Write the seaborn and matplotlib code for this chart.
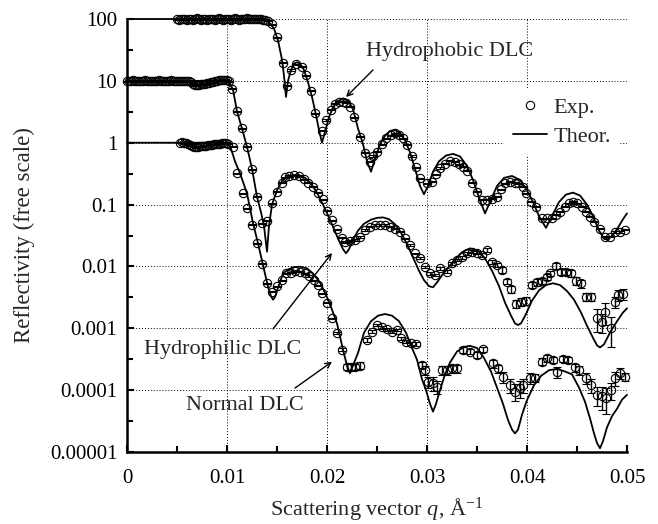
import matplotlib
matplotlib.use("Agg")
import matplotlib.pyplot as plt
from matplotlib.lines import Line2D
from matplotlib.ticker import FixedLocator, NullFormatter
import numpy as np
import seaborn as sns

# ---- theory curves ----
th_top_q = [0, 0.0130, 0.0137, 0.0142, 0.0147, 0.0151, 0.0155, 0.0157, 0.0159, 0.0161, 0.0164, 0.0167,
            0.0170, 0.0173, 0.0177, 0.0181, 0.0185, 0.0189, 0.0192, 0.0195, 0.0198, 0.0202, 0.0206, 0.0211,
            0.0216, 0.0221, 0.0226, 0.0231, 0.0236, 0.0240, 0.0244, 0.0248, 0.0253, 0.0258, 0.0263, 0.0268,
            0.0273, 0.0278, 0.0283, 0.0288, 0.0293, 0.0297, 0.0301, 0.0306, 0.0312, 0.0319, 0.0326, 0.0333,
            0.0340, 0.0346, 0.0352, 0.0358, 0.0364, 0.0370, 0.0377, 0.0385, 0.0393, 0.0400, 0.0406, 0.0412,
            0.0419, 0.0425, 0.0432, 0.0439, 0.0446, 0.0453, 0.0460, 0.0466, 0.0472, 0.0477, 0.0480, 0.0484,
            0.0490, 0.0496, 0.0500]
th_top_r = [100, 100, 97, 88, 70, 45, 22, 12, 5.5, 10, 15, 19,
            20, 19, 15, 9.5, 5.5, 2.8, 1.6, 1.0, 1.5, 2.6, 3.7, 4.7,
            5.2, 4.8, 3.5, 1.7, 0.95, 0.5, 0.34, 0.55, 0.95, 1.3, 1.55, 1.6,
            1.45, 1.1, 0.7, 0.38, 0.2, 0.147, 0.2, 0.34, 0.5, 0.62, 0.66, 0.6,
            0.42, 0.25, 0.13, 0.072, 0.12, 0.2, 0.27, 0.29, 0.25, 0.17, 0.11, 0.065,
            0.042, 0.065, 0.11, 0.145, 0.156, 0.14, 0.1, 0.065, 0.038, 0.028, 0.027, 0.03,
            0.04, 0.058, 0.072]

th_mid_q = [0, 0.0100, 0.0103, 0.0106, 0.0110, 0.0115, 0.0120, 0.0125, 0.0130, 0.0134, 0.0137, 0.0140,
            0.0142, 0.0145, 0.0150, 0.0155, 0.0160, 0.0166, 0.0172, 0.0178, 0.0184, 0.0190, 0.0196, 0.0202,
            0.0207, 0.0212, 0.0216, 0.0219, 0.0222, 0.0226, 0.0231, 0.0237, 0.0244, 0.0250, 0.0256, 0.0262,
            0.0268, 0.0274, 0.0280, 0.0286, 0.0292, 0.0297, 0.0302, 0.0306, 0.0310, 0.0315, 0.0321, 0.0328,
            0.0335, 0.0343, 0.0351, 0.0358, 0.0365, 0.0372, 0.0378, 0.0384, 0.0388, 0.0391, 0.0394, 0.0399,
            0.0405, 0.0412, 0.0419, 0.0426, 0.0433, 0.0440, 0.0447, 0.0454, 0.0460, 0.0466, 0.0470, 0.0473,
            0.0477, 0.0483, 0.0490, 0.0496, 0.0500]
th_mid_r = [10, 10, 9, 7.2, 3.2, 1.7, 0.86, 0.38, 0.134, 0.075, 0.045, 0.0173,
            0.045, 0.1, 0.17, 0.24, 0.28, 0.3, 0.3, 0.27, 0.22, 0.155, 0.1, 0.062,
            0.04, 0.026, 0.019, 0.0163, 0.019, 0.027, 0.038, 0.049, 0.057, 0.061, 0.062, 0.058,
            0.048, 0.035, 0.023, 0.014, 0.0085, 0.006, 0.0048, 0.0046, 0.0055, 0.0072, 0.0095, 0.013,
            0.017, 0.0196, 0.018, 0.0135, 0.0085, 0.0048, 0.0026, 0.0016, 0.0012, 0.00113, 0.0012, 0.0017,
            0.0028, 0.0041, 0.005, 0.00535, 0.005, 0.004, 0.0029, 0.0018, 0.0011, 0.0007, 0.00053, 0.00049,
            0.00055, 0.00085, 0.0013, 0.0018, 0.0021]

th_low_q = [0, 0.0100, 0.0104, 0.0108, 0.0113, 0.0120, 0.0126, 0.0131, 0.0136, 0.0141, 0.0144, 0.0146,
            0.0148, 0.0151, 0.0156, 0.0161, 0.0166, 0.0173, 0.0180, 0.0186, 0.0193, 0.0200, 0.0205, 0.0210,
            0.0216, 0.0220, 0.0223, 0.0226, 0.0231, 0.0237, 0.0244, 0.0251, 0.0258, 0.0265, 0.0272, 0.0279,
            0.0285, 0.0290, 0.0295, 0.0299, 0.0303, 0.0306, 0.0309, 0.0313, 0.0318, 0.0323, 0.0330, 0.0337,
            0.0343, 0.0350, 0.0357, 0.0364, 0.0370, 0.0376, 0.0381, 0.0385, 0.0388, 0.0391, 0.0395, 0.0400,
            0.0407, 0.0414, 0.0422, 0.0430, 0.0438, 0.0445, 0.0452, 0.0458, 0.0463, 0.0467, 0.0470, 0.0473,
            0.0476, 0.0480, 0.0485, 0.0490, 0.0495, 0.0500]
th_low_r = [1, 1, 0.8, 0.5, 0.32, 0.152, 0.05, 0.0237, 0.0105, 0.0047, 0.0033, 0.0029,
            0.0032, 0.0045, 0.0077, 0.0089, 0.0097, 0.0099, 0.0093, 0.0077, 0.0055, 0.0032, 0.002, 0.0012,
            0.00045, 0.00025, 0.000187, 0.00025, 0.0004, 0.00085, 0.0013, 0.0016, 0.0017, 0.0016, 0.0013, 0.00085,
            0.00048, 0.00031, 0.00015, 0.0001, 6e-5, 4.5e-5, 6e-5, 0.0001, 0.00018, 0.00028, 0.00042, 0.0005,
            0.00052, 0.00048, 0.00033, 0.0002, 0.00011, 6e-5, 3.3e-5, 2.3e-5, 2.0e-5, 2.3e-5, 4e-5, 6.9e-5,
            0.00012, 0.00017, 0.00021, 0.00022, 0.0002, 0.00018, 0.00011, 6.5e-5, 3.5e-5, 2e-5, 1.4e-5, 1.15e-5,
            1.5e-5, 2.5e-5, 3.8e-5, 5e-5, 7e-5, 8.4e-5]

# ---- experimental points ----
exp_top_q = [0.0050, 0.0052, 0.0054, 0.0056, 0.0058, 0.0060, 0.0062, 0.0064, 0.0066, 0.0068, 0.0070, 0.0072,
             0.0074, 0.0076, 0.0078, 0.0080, 0.0082, 0.0084, 0.0086, 0.0088, 0.0090, 0.0092, 0.0094, 0.0096,
             0.0098, 0.0100, 0.0102, 0.0104, 0.0106, 0.0108, 0.0110, 0.0112, 0.0114, 0.0116, 0.0118, 0.0120,
             0.0122, 0.0124, 0.0126, 0.0128, 0.0130, 0.0132, 0.0134, 0.0136, 0.0138, 0.0141, 0.0145, 0.0150,
             0.0156, 0.0160, 0.0164, 0.0169, 0.0175, 0.0179, 0.0184, 0.0188, 0.0195, 0.0199, 0.0204, 0.0208,
             0.0212, 0.0216, 0.0219, 0.0223, 0.0227, 0.0233, 0.0238, 0.0243, 0.0246, 0.0250, 0.0255, 0.0259,
             0.0264, 0.0268, 0.0272, 0.0276, 0.0280, 0.0285, 0.0289, 0.0293, 0.0300, 0.0305, 0.0309, 0.0313,
             0.0318, 0.0323, 0.0328, 0.0332, 0.0336, 0.0340, 0.0345, 0.0350, 0.0355, 0.0360, 0.0365, 0.0370,
             0.0374, 0.0378, 0.0383, 0.0388, 0.0391, 0.0396, 0.0399, 0.0404, 0.0409, 0.0415, 0.0420, 0.0425,
             0.0429, 0.0433, 0.0438, 0.0442, 0.0446, 0.0450, 0.0455, 0.0459, 0.0463, 0.0467, 0.0473, 0.0478,
             0.0483, 0.0488, 0.0493, 0.0498]
exp_top_r = [100, 98, 101, 99, 100, 97, 101, 99, 98, 100, 102, 99,
             97, 100, 101, 98, 100, 99, 101, 98, 100, 102, 99, 97,
             100, 101, 99, 98, 100, 102, 100, 98, 101, 99, 100, 102,
             100, 99, 101, 100, 99, 101, 100, 98, 97, 93, 82, 50.6,
             19.7, 8.3, 15, 18.6, 17, 12.4, 6.9, 3.0, 1.55, 2.33, 3.4, 4.3,
             4.6, 4.6, 4.4, 3.8, 2.6, 1.25, 0.69, 0.49, 0.61, 0.72, 0.95, 1.18,
             1.33, 1.42, 1.33, 1.18, 0.92, 0.61, 0.4, 0.266, 0.22, 0.234, 0.31, 0.39,
             0.46, 0.51, 0.49, 0.45, 0.41, 0.35, 0.226, 0.161, 0.119, 0.119, 0.125, 0.134,
             0.177, 0.221, 0.234, 0.226, 0.22, 0.195, 0.152, 0.111, 0.092, 0.06, 0.06, 0.06,
             0.068, 0.077, 0.092, 0.105, 0.111, 0.105, 0.092, 0.077, 0.064, 0.053, 0.041, 0.03,
             0.03, 0.036, 0.036, 0.039]

exp_mid_q = [0.0000, 0.0002, 0.0004, 0.0006, 0.0008, 0.0010, 0.0012, 0.0014, 0.0016, 0.0018, 0.0020, 0.0022,
             0.0024, 0.0026, 0.0028, 0.0030, 0.0032, 0.0034, 0.0036, 0.0038, 0.0040, 0.0042, 0.0044, 0.0046,
             0.0048, 0.0050, 0.0052, 0.0054, 0.0056, 0.0058, 0.0060, 0.0062, 0.0064, 0.0066, 0.0068, 0.0070,
             0.0072, 0.0074, 0.0076, 0.0078, 0.0080, 0.0082, 0.0084, 0.0086, 0.0088, 0.0090, 0.0092, 0.0094,
             0.0096, 0.0098, 0.0100, 0.0102, 0.0105, 0.0110, 0.0115, 0.0120, 0.0125, 0.0130, 0.0135, 0.0140,
             0.0145, 0.0150, 0.0155, 0.0158, 0.0162, 0.0167, 0.0172, 0.0177, 0.0181, 0.0186, 0.0191, 0.0196,
             0.0200, 0.0205, 0.0210, 0.0215, 0.0218, 0.0223, 0.0228, 0.0233, 0.0238, 0.0243, 0.0248, 0.0253,
             0.0258, 0.0263, 0.0268, 0.0273, 0.0278, 0.0283, 0.0288, 0.0293, 0.0298, 0.0303, 0.0308, 0.0313,
             0.0320, 0.0325, 0.0330, 0.0335, 0.0340, 0.0345, 0.0350, 0.0355, 0.0360, 0.0365, 0.0370, 0.0375,
             0.0380, 0.0384, 0.0389, 0.0394, 0.0399, 0.0405, 0.0410, 0.0415, 0.0420, 0.0423, 0.0429, 0.0434,
             0.0439, 0.0444, 0.0449, 0.0454, 0.0459, 0.0464, 0.0470, 0.0475, 0.0478, 0.0484, 0.0488, 0.0491,
             0.0496]
exp_mid_r = [9.8, 10.1, 9.9, 10.2, 10.0, 9.8, 10.1, 10.0, 9.9, 10.2, 10.0, 9.9,
             10.1, 10.0, 9.8, 10.1, 10.2, 9.9, 10.0, 10.1, 9.9, 10.0, 10.2, 10.0,
             9.9, 10.1, 10.0, 9.8, 10.1, 10.0, 9.9, 9.8, 9.6, 9.0, 8.6, 8.5,
             8.6, 8.8, 8.9, 9.0, 9.1, 9.3, 9.5, 9.7, 9.8, 10.0, 10.2, 10.3,
             10.4, 10.4, 10.2, 9.8, 7.4, 3.2, 1.71, 0.86, 0.37, 0.134, 0.05, 0.055,
             0.105, 0.161, 0.226, 0.275, 0.29, 0.297, 0.29, 0.257, 0.226, 0.195, 0.156, 0.122,
             0.08, 0.056, 0.04, 0.029, 0.025, 0.026, 0.0267, 0.030, 0.039, 0.044, 0.047, 0.047,
             0.047, 0.044, 0.041, 0.0365, 0.0284, 0.0222, 0.0163, 0.0135, 0.0099, 0.0077, 0.0073, 0.0093,
             0.0082, 0.0112, 0.0127, 0.014, 0.0163, 0.0173, 0.0167, 0.0153, 0.0185, 0.0119, 0.0106, 0.0088,
             0.0057, 0.0043, 0.0025, 0.0027, 0.0028, 0.005, 0.0055, 0.0059, 0.0068, 0.0077, 0.0102, 0.0082,
             0.0082, 0.0077, 0.0059, 0.0053, 0.0032, 0.0032, 0.00145, 0.00128, 0.00186, 0.001, 0.0027, 0.0035,
             0.0036]
exp_mid_e = [0.02, 0.02, 0.02, 0.02, 0.02, 0.02, 0.02, 0.02, 0.02, 0.02, 0.02, 0.02,
             0.02, 0.02, 0.02, 0.02, 0.02, 0.02, 0.02, 0.02, 0.02, 0.02, 0.02, 0.02,
             0.02, 0.02, 0.02, 0.02, 0.02, 0.02, 0.02, 0.02, 0.02, 0.02, 0.02, 0.02,
             0.02, 0.02, 0.02, 0.02, 0.02, 0.02, 0.02, 0.02, 0.02, 0.02, 0.02, 0.02,
             0.02, 0.02, 0.02, 0.02, 0.02, 0.02, 0.02, 0.02, 0.02, 0.02, 0.02, 0.02,
             0.02, 0.02, 0.02, 0.02, 0.02, 0.02, 0.02, 0.02, 0.02, 0.02, 0.02, 0.02,
             0.02, 0.02, 0.02, 0.02, 0.03, 0.03, 0.03, 0.03, 0.03, 0.03, 0.03, 0.03,
             0.03, 0.03, 0.03, 0.03, 0.03, 0.03, 0.03, 0.04, 0.04, 0.04, 0.05, 0.05,
             0.05, 0.05, 0.05, 0.05, 0.05, 0.05, 0.05, 0.06, 0.06, 0.08, 0.08, 0.1,
             0.1, 0.12, 0.15, 0.15, 0.15, 0.12, 0.12, 0.12, 0.12, 0.1, 0.1, 0.12,
             0.12, 0.12, 0.15, 0.15, 0.15, 0.15, 0.4, 0.35, 0.4, 0.5, 0.2, 0.2,
             0.2]

exp_low_q = [0.0053, 0.0055, 0.0057, 0.0059, 0.0061, 0.0063, 0.0065, 0.0067, 0.0069, 0.0071, 0.0073, 0.0075,
             0.0077, 0.0079, 0.0081, 0.0083, 0.0085, 0.0087, 0.0089, 0.0091, 0.0093, 0.0095, 0.0097, 0.0099,
             0.0101, 0.0106, 0.0110, 0.0116, 0.0120, 0.0125, 0.0130, 0.0135, 0.0140, 0.0145, 0.0150, 0.0155,
             0.0159, 0.0164, 0.0168, 0.0173, 0.0178, 0.0182, 0.0187, 0.0191, 0.0195, 0.0200, 0.0205, 0.0210,
             0.0215, 0.0220, 0.0224, 0.0228, 0.0233, 0.0240, 0.0245, 0.0250, 0.0255, 0.0260, 0.0265, 0.0270,
             0.0274, 0.0279, 0.0284, 0.0289, 0.0295, 0.0298, 0.0301, 0.0306, 0.0310, 0.0315, 0.0320, 0.0325,
             0.0330, 0.0336, 0.0343, 0.0350, 0.0356, 0.0366, 0.0371, 0.0376, 0.0383, 0.0388, 0.0393, 0.0396,
             0.0403, 0.0408, 0.0415, 0.0420, 0.0426, 0.0430, 0.0436, 0.0441, 0.0448, 0.0452, 0.0459, 0.0464,
             0.0470, 0.0475, 0.0479, 0.0484, 0.0488, 0.0493, 0.0498]
exp_low_r = [1.0, 1.02, 0.99, 0.99, 0.97, 0.93, 0.9, 0.86, 0.85, 0.86, 0.87, 0.88,
             0.89, 0.9, 0.91, 0.92, 0.93, 0.94, 0.95, 0.96, 0.97, 0.98, 0.99, 1.0,
             0.97, 0.86, 0.32, 0.152, 0.087, 0.047, 0.0237, 0.011, 0.0053, 0.0039, 0.0048, 0.006,
             0.0077, 0.0079, 0.0085, 0.0082, 0.0077, 0.007, 0.006, 0.005, 0.0037, 0.0026, 0.00145, 0.00085,
             0.00045, 0.00024, 0.00024, 0.00024, 0.00025, 0.00065, 0.00088, 0.00113, 0.00104, 0.00096, 0.00088, 0.00094,
             0.00069, 0.00061, 0.00057, 0.00056, 0.000255, 0.00021, 0.000137, 0.000129, 0.000114, 0.00021, 0.00021, 0.000225,
             0.000225, 0.000446, 0.00042, 0.00037, 0.000457, 0.00027, 0.000225, 0.000165, 0.000121, 9.5e-5, 0.000107, 0.000121,
             0.000155, 0.00016, 0.00029, 0.00033, 0.00031, 0.0002, 0.00032, 0.00031, 0.000234, 0.00021, 0.000155, 0.000121,
             8.4e-5, 7.9e-5, 7.4e-5, 0.0001, 0.000155, 0.000187, 0.000165]
exp_low_e = [0.02, 0.02, 0.02, 0.02, 0.02, 0.02, 0.02, 0.02, 0.02, 0.02, 0.02, 0.02,
             0.02, 0.02, 0.02, 0.02, 0.02, 0.02, 0.02, 0.02, 0.02, 0.02, 0.02, 0.02,
             0.02, 0.02, 0.02, 0.02, 0.02, 0.02, 0.02, 0.02, 0.02, 0.02, 0.02, 0.02,
             0.02, 0.02, 0.02, 0.02, 0.02, 0.02, 0.02, 0.02, 0.02, 0.03, 0.03, 0.04,
             0.05, 0.12, 0.12, 0.12, 0.12, 0.06, 0.06, 0.05, 0.05, 0.05, 0.05, 0.05,
             0.06, 0.06, 0.06, 0.06, 0.12, 0.15, 0.2, 0.25, 0.25, 0.15, 0.15, 0.15,
             0.15, 0.1, 0.1, 0.1, 0.1, 0.15, 0.15, 0.2, 0.25, 0.3, 0.3, 0.25,
             0.2, 0.15, 0.12, 0.12, 0.12, 0.2, 0.12, 0.12, 0.15, 0.15, 0.2, 0.25,
             0.35, 0.4, 0.45, 0.3, 0.25, 0.2, 0.15]

x_ticks = [0, 0.01, 0.02, 0.03, 0.04, 0.05]
x_tick_labels = ["0", "0.01", "0.02", "0.03", "0.04", "0.05"]
y_ticks = [1e-5, 1e-4, 1e-3, 1e-2, 1e-1, 1, 10, 100]
y_tick_labels = ["0.00001", "0.0001", "0.001", "0.01", "0.1", "1", "10", "100"]

sns.set_style("ticks")
plt.rcParams["font.family"] = ["Liberation Serif", "DejaVu Serif"]
plt.rcParams["mathtext.fontset"] = "custom"
plt.rcParams["mathtext.rm"] = "Liberation Serif"
plt.rcParams["mathtext.it"] = "Liberation Serif:italic"

fig = plt.figure(figsize=(6.58, 5.24), dpi=100)
ax = fig.add_axes([127 / 658, 1 - 452 / 524, 500 / 658, 433 / 524])

for q, r in [(th_top_q, th_top_r), (th_mid_q, th_mid_r), (th_low_q, th_low_r)]:
    sns.lineplot(x=q, y=r, ax=ax, color="black", lw=1.3, sort=False, estimator=None, zorder=3, clip_on=False)

exp_top_e = [0.02] * len(exp_top_q)
for q, r, e in [(exp_top_q, exp_top_r, exp_top_e), (exp_mid_q, exp_mid_r, exp_mid_e),
                (exp_low_q, exp_low_r, exp_low_e)]:
    r = np.array(r)
    err = r * np.array(e)
    ax.errorbar(q, r, yerr=err, fmt="o", ms=6, mfc="none", mec="black", mew=0.8,
                ecolor="black", elinewidth=1.0, capsize=3.2, capthick=1.6, zorder=4, clip_on=False)

ax.set_yscale("log")
ax.set_xlim(0, 0.05)
ax.set_ylim(1e-5, 100)
ax.set_xticks(x_ticks)
ax.set_xticklabels(x_tick_labels)
ax.xaxis.set_minor_locator(FixedLocator([0.005, 0.015, 0.025, 0.035, 0.045]))
ax.set_yticks(y_ticks)
ax.set_yticklabels(y_tick_labels)
ax.yaxis.set_minor_locator(FixedLocator([10 ** (k + 0.5) for k in range(-5, 2)]))
ax.yaxis.set_minor_formatter(NullFormatter())

ax.tick_params(which="both", direction="in", width=1.5, labelsize=15, colors="black")
ax.tick_params(which="major", length=5)
ax.tick_params(which="minor", length=4)
ax.tick_params(axis="x", pad=12)
ax.tick_params(axis="y", pad=7)
ax.grid(True, which="major", color="black", ls=(0, (1, 2)), lw=0.7)
for s in ["top", "right"]:
    ax.spines[s].set_visible(False)
for s in ["left", "bottom"]:
    ax.spines[s].set_linewidth(1.8)
    ax.spines[s].set_color("black")

ax.set_xlabel("Scattering vector $q$, Å$^{\\mathrm{-1}}$", fontsize=16)
ax.set_ylabel("Reflectivity (free scale)", fontsize=16.5)
ax.xaxis.set_label_coords(0.5, -0.1)
ax.yaxis.set_label_coords(-0.184, 0.5)

# annotations
ax.text(0.0323, 29.3, "Hydrophobic DLC", fontsize=16, ha="center", va="center")
ax.annotate("", xy=(0.0219, 5.48), xytext=(0.0246, 15.0),
            arrowprops=dict(arrowstyle="->", lw=1, color="black", shrinkA=0, shrinkB=0))
ax.text(0.0096, 4.46e-4, "Hydrophilic DLC", fontsize=16, ha="center", va="center")
ax.annotate("", xy=(0.0205, 0.0165), xytext=(0.0146, 9.75e-4),
            arrowprops=dict(arrowstyle="->", lw=1, color="black", shrinkA=0, shrinkB=0))
ax.text(0.0118, 5.75e-5, "Normal DLC", fontsize=16, ha="center", va="center")
ax.annotate("", xy=(0.0205, 2.88e-4), xytext=(0.0168, 1.08e-4),
            arrowprops=dict(arrowstyle="->", lw=1, color="black", shrinkA=0, shrinkB=0))

handles = [Line2D([], [], ls="none", marker="o", ms=6, mfc="none", mec="black", mew=0.8),
           Line2D([], [], color="black", lw=1.3)]
leg = ax.legend(handles, ["Exp.", "Theor."], loc="center", bbox_to_anchor=(562 / 658, 1 - 122 / 524),
                bbox_transform=fig.transFigure, fontsize=16, frameon=True, facecolor="white",
                edgecolor="none", framealpha=1, fancybox=False, handlelength=1.5, handletextpad=0.3,
                labelspacing=0.4, borderpad=0.4)
leg.set_zorder(5)

fig.savefig("out.png", dpi=100)
